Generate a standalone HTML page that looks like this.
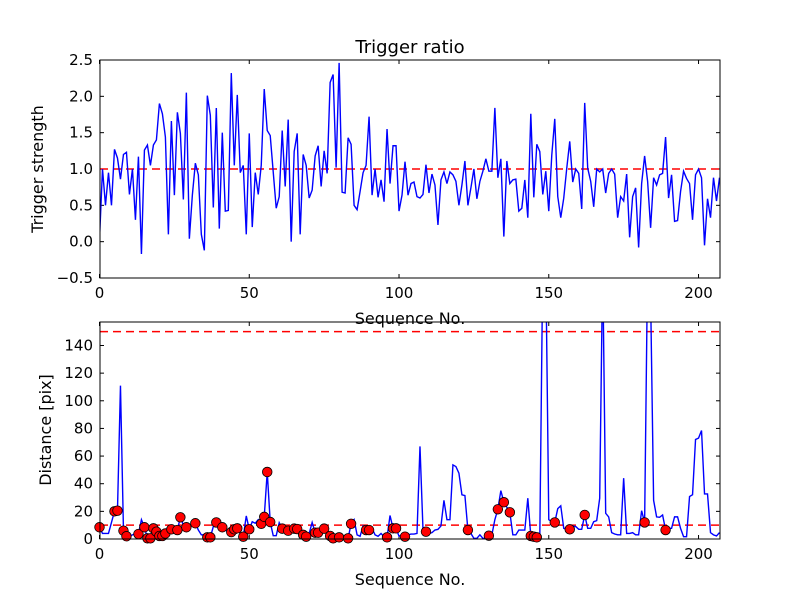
<!DOCTYPE html>
<html><head><meta charset="utf-8"><style>
html,body{margin:0;padding:0;background:#fff;}
svg{display:block;font-family:"DejaVu Sans","Liberation Sans",sans-serif;}
</style></head><body>
<svg id="c" width="800" height="600" xmlns="http://www.w3.org/2000/svg">
<rect width="800" height="600" fill="#fff"/>
</svg>
<script>
const trigger=[0.03,1.0,0.5,0.95,0.5,1.27,1.15,0.86,1.2,1.23,0.65,1.0,0.3,1.17,-0.17,1.26,1.33,1.05,1.33,1.4,1.9,1.76,1.44,0.1,1.66,0.64,1.78,1.49,0.58,2.05,0.04,0.64,1.08,0.92,0.1,-0.12,2.01,1.74,0.47,1.84,0.18,1.5,0.42,0.43,2.32,1.05,2.02,0.95,1.05,0.1,1.49,0.2,0.95,0.65,1.05,2.1,1.53,1.46,0.96,0.46,0.62,1.53,0.76,1.68,0.0,1.24,1.49,0.1,1.2,1.05,0.6,
0.71,1.18,1.32,0.76,1.25,0.94,2.19,2.3,1.02,2.46,0.68,0.67,1.43,1.34,0.5,0.44,0.69,0.95,1.05,1.72,0.64,1.0,0.61,0.85,0.55,1.55,0.8,1.32,1.32,0.42,0.64,1.1,0.64,0.8,0.82,0.62,0.6,0.65,1.06,0.67,0.93,0.78,0.23,0.85,0.96,0.8,0.96,0.92,0.83,
0.5,0.78,1.11,0.5,0.74,1.0,0.59,0.83,0.97,1.14,0.97,0.97,1.84,0.88,1.14,0.07,
1.11,0.8,0.85,0.86,0.42,0.46,0.85,0.33,1.76,0.61,1.34,1.24,0.65,0.97,0.42,1.19,1.69,0.62,0.33,0.6,1.01,1.38,0.82,1.0,0.94,0.45,1.91,1.01,0.83,0.48,1.0,0.96,1.0,0.67,0.94,1.0,0.93,0.33,0.62,0.56,0.93,0.06,0.62,0.74,-0.08,0.8,1.18,0.83,0.19,0.88,0.78,0.92,0.94,1.44,0.6,0.92,0.28,0.29,0.69,0.97,0.87,0.8,0.3,0.92,1.0,0.88,-0.05,0.59,0.33,0.88,0.56,0.88];
const distance=[8.5,4,4,4,12,20,20.5,111,6,2,2,3,4,3.6,14,8.5,0.5,0.5,7.7,5.3,2.2,2.2,4,7.7,7,9,6.5,15.7,10,8.5,10,10,11.4,6.5,3,3,1.2,1.2,9,12,10,8.5,6.5,5,5,7,7.7,4,1.7,16.7,7,12.5,11.4,14,11,16,48.5,12.3,2.4,2.4,11.8,7.5,6.5,6,7,7.5,7.2,6,3,1.7,
4,12,4.6,4.6,6.5,7.5,4,2.2,0.5,1.2,1.2,1.7,2,0.5,11,14,3,2,9.4,6.5,6.5,7.7,3,2,4,1.7,1.2,17,7.7,7.7,2,3,1.7,3,3.6,3.6,4,67,7,5.3,4,4.6,6.5,7,9.4,28,14,14,53.6,52.4,47.6,32,31.4,6.5,4,0.5,0.5,3,0.5,0.5,2.4,3,14,21.5,35,26.6,23,19.3,
3,3,6.5,6.5,6.5,29.5,2.2,1.7,1.2,0.5,200,200,14,12.5,12,22,24,7.7,7,7,9.4,9,7,7,17.4,7.7,7.7,12.5,13.3,29.5,200,18.6,16,4.6,3.6,3,3,44,4,4,4.6,3,3,20.5,12,200,175,28,16,15.7,17.4,6.5,7.7,7.7,16,16,7.7,1.7,1.7,30.7,32,72,73,78.5,32.6,32.6,4.6,3,2.2,4.6];
const markerIdx=[0,5,6,8,9,13,15,16,17,18,19,20,21,22,24,26,27,29,32,36,37,39,41,44,45,46,48,50,54,55,56,57,61,63,65,66,68,69,72,73,75,77,78,80,83,84,89,90,96,98,99,102,109,123,130,133,135,137,144,145,146,152,157,162,182,189];
const xTicks=[0,50,100,150,200];
const yTicksTop=[-0.5,0.0,0.5,1.0,1.5,2.0,2.5];
const yTicksBot=[0,20,40,60,80,100,120,140];
const topRef=[1.0];
const botRef=[10,150];

const NS='http://www.w3.org/2000/svg';
const svg=document.getElementById('c');
function el(t,a,p){const e=document.createElementNS(NS,t);for(const k in a)e.setAttribute(k,a[k]);(p||svg).appendChild(e);return e;}
const L=100,R=720,XMAX=207;
const sx=v=>L+(v/XMAX)*(R-L)-0.5;
const T1=60,B1=278,T2=322,B2=539;
const sy1=v=>B1-(v+0.5)/3*(B1-T1);
const sy2=v=>B2-v/157*(B2-T2);
const minus=s=>s.replace('-','\u2212');

function axes(name,top,bot,sy,yt,fmt){
  const g=el('g',{});
  
  
  const cid=name+'-clip';
  const cp=el('clipPath',{id:cid},g);el('rect',{x:L,y:top,width:R-L,height:bot-top},cp);
  xTicks.forEach(t=>{const x=sx(t);
    el('line',{x1:x,x2:x,y1:bot,y2:bot-4,stroke:'#000'},g);
    el('line',{x1:x,x2:x,y1:top,y2:top+4,stroke:'#000'},g);
    const tx=el('text',{x:x,y:bot+20,'font-size':15,'text-anchor':'middle'},g);tx.textContent=t;
    });
  yt.forEach(t=>{const y=sy(t);
    el('line',{x1:L,x2:L+4,y1:y,y2:y,stroke:'#000'},g);
    el('line',{x1:R,x2:R-4,y1:y,y2:y,stroke:'#000'},g);
    const tx=el('text',{x:L-7,y:y+5,'font-size':15,'text-anchor':'end'},g);tx.textContent=minus(fmt(t));
    });
  return {g,cid};
}
const A=axes('trigger-axes',T1,B1,sy1,yTicksTop,t=>t.toFixed(1));
const gl1=el('g',{'clip-path':'url(#'+A.cid+')'},A.g);
topRef.forEach(v=>{const l=el('line',{x1:L,x2:R,y1:sy1(v),y2:sy1(v),stroke:'#f00','stroke-width':1.5,'stroke-dasharray':'8,5'},gl1);
  });
const p1=el('polyline',{points:trigger.map((v,i)=>sx(i)+','+sy1(v)).join(' '),fill:'none',stroke:'#00f','stroke-width':1.4},gl1);

el('rect',{x:L,y:T1,width:R-L,height:B1-T1,fill:'none',stroke:'#000'},A.g);
const B=axes('distance-axes',T2,B2,sy2,yTicksBot,t=>String(t));
const gl2=el('g',{'clip-path':'url(#'+B.cid+')'},B.g);
botRef.forEach(v=>{const l=el('line',{x1:L,x2:R,y1:sy2(v),y2:sy2(v),stroke:'#f00','stroke-width':1.5,'stroke-dasharray':'8,5'},gl2);
  });
const p2=el('polyline',{points:distance.map((v,i)=>sx(i)+','+sy2(v)).join(' '),fill:'none',stroke:'#00f','stroke-width':1.4},gl2);

const gm=el('g',{},B.g);
markerIdx.forEach(i=>{const c=el('circle',{cx:sx(i),cy:sy2(distance[i]),r:4.8,fill:'#f00',stroke:'#000','stroke-width':0.8},gm);
  });
el('rect',{x:L,y:T2,width:R-L,height:B2-T2,fill:'none',stroke:'#000'},B.g);
function txt(s,a,name){const t=el('text',a);t.textContent=s;return t;}
txt('Trigger ratio',{x:410,y:53,'font-size':18,'text-anchor':'middle'},'chart-title');
txt('Sequence No.',{x:410,y:324,'font-size':16,'text-anchor':'middle'},'top-x-axis-title');
txt('Sequence No.',{x:410,y:585,'font-size':16,'text-anchor':'middle'},'bottom-x-axis-title');
txt('Trigger strength',{x:43,y:169,'font-size':16,'text-anchor':'middle',transform:'rotate(-90 43 169)'},'top-y-axis-title');
txt('Distance [pix]',{x:51,y:430,'font-size':16,'text-anchor':'middle',transform:'rotate(-90 51 430)'},'bottom-y-axis-title');
</script>
</body></html>
